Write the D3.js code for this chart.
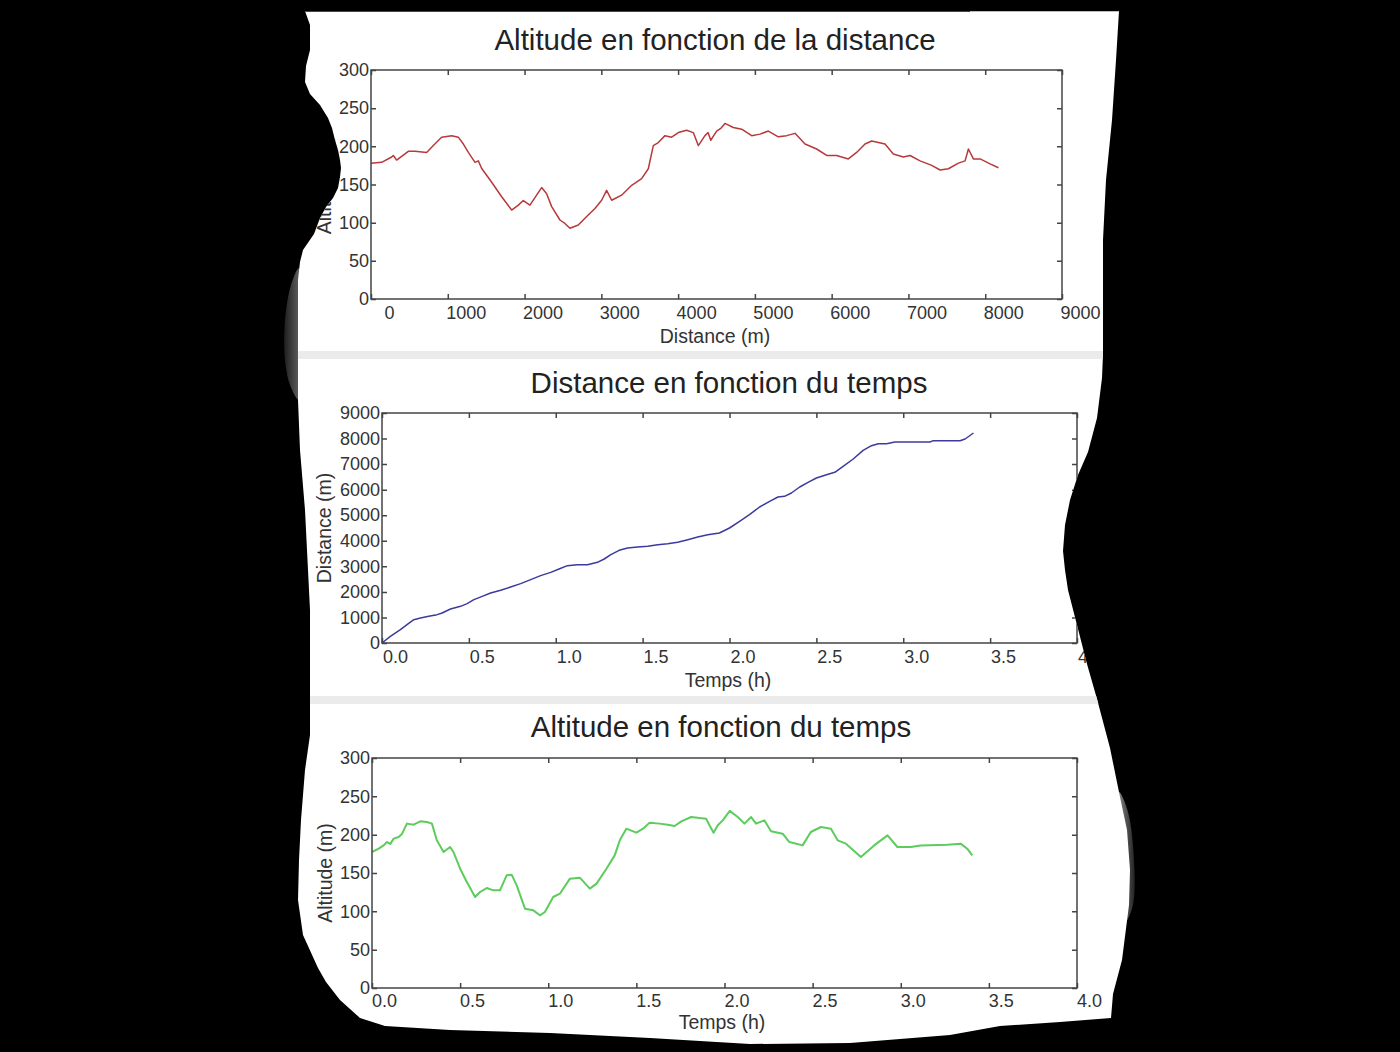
<!DOCTYPE html>
<html>
<head>
<meta charset="utf-8">
<script src="https://cdn.jsdelivr.net/npm/d3@7"></script>
<style>
html, body { margin: 0; padding: 0; background: #000; }
svg { display: block; }
text { font-family: "Liberation Sans", Arial, sans-serif; fill: #333; }
</style>
</head>
<body>
<svg id="chart" width="1400" height="1052"></svg>
<script>
// --- data ---

// altitude vs distance (top, red)
const profileDistM = [0, 139, 269, 291, 334, 486, 573, 725, 812, 920, 1051, 1137, 1203, 1268, 1355, 1398, 1442,
    1572, 1702, 1832, 1919, 1984, 2070, 2157, 2223, 2288, 2353, 2461, 2526, 2591, 2700, 2809, 2917, 3004,
    3069, 3134, 3264, 3395, 3525, 3612, 3677, 3742, 3829, 3916, 4003, 4111, 4198, 4263, 4350, 4390, 4425,
    4502, 4560, 4610, 4719, 4828, 4958, 5066, 5175, 5305, 5414, 5523, 5653, 5804, 5935, 6065, 6217, 6325,
    6434, 6521, 6608, 6695, 6803, 6934, 7021, 7151, 7303, 7412, 7520, 7651, 7738, 7781, 7846, 7933, 8064, 8172];
const profileAltM = [178, 179, 186, 188, 182, 193.5, 193.5, 192, 201, 212, 214, 212, 203, 192, 179, 181, 171,
    153, 134, 116.5, 123, 129, 123, 136, 146, 138, 121, 103.5, 99, 92.6, 97, 108, 118.6, 129.4,
    142.4, 129.4, 136, 149, 157.6, 170.6, 201, 205, 214, 212, 218, 221, 218, 201, 214, 218, 208,
    220, 224, 230, 224.7, 222.5, 214, 216, 220, 212.5, 214, 217, 203, 196.5, 188, 188, 183.5, 192,
    203, 207, 205, 203, 190, 186, 188, 181, 175, 169, 170.6, 178, 181, 196.5, 183.5, 183.5, 177, 172];

// distance vs time (middle, blue)
const distTimeH = [0, 0.048, 0.106, 0.144, 0.183, 0.221, 0.269, 0.317, 0.346, 0.394, 0.452, 0.490, 0.529,
    0.577, 0.625, 0.683, 0.740, 0.798, 0.856, 0.913, 0.971, 1.019, 1.067, 1.125, 1.183, 1.240, 1.279,
    1.317, 1.365, 1.413, 1.471, 1.529, 1.587, 1.644, 1.702, 1.760, 1.817, 1.875, 1.942, 2.0, 2.058,
    2.115, 2.173, 2.231, 2.279, 2.317, 2.356, 2.404, 2.452, 2.5, 2.558, 2.606, 2.654, 2.712, 2.769,
    2.817, 2.856, 2.904, 2.952, 3.096, 3.154, 3.173, 3.327, 3.356, 3.404];
const distTimeM = [0, 261, 522, 717, 913, 978, 1043, 1109, 1174, 1330, 1435, 1539, 1696,
    1826, 1956, 2061, 2191, 2322, 2478, 2635, 2765, 2896, 3026, 3065, 3065, 3156, 3287,
    3456, 3626, 3717, 3756, 3782, 3848, 3887, 3939, 4043, 4148, 4239, 4304, 4500, 4761,
    5022, 5322, 5543, 5713, 5739, 5869, 6104, 6287, 6456, 6587, 6678, 6913, 7200, 7539,
    7722, 7800, 7800, 7865, 7865, 7865, 7917, 7917, 7982, 8217];

// altitude vs time (bottom, green)
const altTimeH = [0, 0.038, 0.066, 0.085, 0.104, 0.123, 0.151, 0.17, 0.198, 0.236, 0.274, 0.311, 0.34,
    0.368, 0.406, 0.443, 0.462, 0.5, 0.538, 0.585, 0.613, 0.651, 0.689, 0.726, 0.764, 0.792, 0.821,
    0.868, 0.915, 0.953, 0.981, 1.028, 1.066, 1.123, 1.179, 1.236, 1.274, 1.33, 1.377, 1.406, 1.443,
    1.5, 1.538, 1.575, 1.632, 1.679, 1.717, 1.755, 1.811, 1.858, 1.896, 1.915, 1.938, 1.962, 1.99,
    2.03, 2.075, 2.113, 2.151, 2.179, 2.226, 2.264, 2.33, 2.368, 2.443, 2.49, 2.547, 2.604, 2.642,
    2.689, 2.774, 2.849, 2.925, 2.981, 3.057, 3.113, 3.264, 3.34, 3.377, 3.406];
const altTimeM = [177.4, 181.7, 186, 190.4, 188, 194.8, 197, 201, 214.4, 213, 217.4, 216.5, 214.4,
    192.6, 177.4, 184, 177.4, 155.6, 138.3, 118.7, 125.2, 130.4, 127.4, 127.4, 147, 147.8, 133.9,
    103.5, 101.3, 94.8, 99.1, 118.7, 123, 142.6, 143.9, 129.6, 136.1, 155.6, 173, 192.6, 207.8,
    202.6, 207.8, 215.7, 214.4, 213, 211.3, 217.4, 223, 221.7, 220.9, 212.2, 202.6, 212.2, 218.7,
    231, 223, 214.4, 223, 214.4, 218.7, 204.4, 201.3, 190.4, 186, 203.5, 210, 207.8, 192.6,
    188.3, 170.9, 186, 199.1, 183.9, 183.9, 186, 187, 188.3, 181.7, 173];

// ticks
const distTicks = d3.range(0, 9001, 1000);
const altTicks = d3.range(0, 301, 50);
const hourTicks = d3.range(0, 4.01, 0.5);

const titles = ["Altitude en fonction de la distance", "Distance en fonction du temps", "Altitude en fonction du temps"];

// --- page ---
const svg = d3.select("#chart");
svg.append("rect").attr("width", 1400).attr("height", 1052).attr("fill", "#000");

// torn paper outline (decoration, clockwise from top left)
const paperOutline = [[305, 11], [1119, 11], [1116, 60], [1112, 120], [1106, 180], [1103, 240], [1103, 300],
    [1103, 354], [1102, 378], [1097, 418], [1088, 452], [1078, 475], [1070, 500], [1065, 525], [1063, 551],
    [1065, 570], [1068, 590], [1077, 625], [1087, 664], [1097, 699], [1110, 748], [1120, 797], [1127, 830],
    [1130, 870], [1129, 905], [1122, 960], [1113, 994], [1111, 1018], [1060, 1022], [1000, 1026], [950, 1035],
    [850, 1043], [750, 1044], [650, 1038], [550, 1033], [450, 1030], [385, 1026], [360, 1018], [340, 1000],
    [326, 982], [318, 968], [303, 935], [298, 900], [299, 860], [301, 820], [305, 770], [310, 735], [310, 610],
    [305, 510], [300, 450], [298, 400], [298, 280], [300, 262], [303, 250], [314, 234], [320, 218], [326, 207],
    [333, 198], [338, 188], [340, 177], [341, 168], [340, 160], [338, 150], [335, 140], [332, 128], [328, 118],
    [320, 105], [310, 94], [305, 82], [306, 66], [310, 50], [310, 25]];

const shadowLeft = [[299, 268], [291, 285], [285, 320], [285, 360], [290, 385], [299, 400]];
const shadowRight = [[1119, 792], [1128, 812], [1134, 860], [1133, 905], [1125, 922]];

const defs = svg.append("defs");
const grad = defs.append("linearGradient").attr("id", "shade").attr("x1", 0).attr("x2", 1);
grad.append("stop").attr("offset", 0).attr("stop-color", "#1e1e1e");
grad.append("stop").attr("offset", 1).attr("stop-color", "#6e6e6e");
const gradR = defs.append("linearGradient").attr("id", "shadeR").attr("x1", 1).attr("x2", 0);
gradR.append("stop").attr("offset", 0).attr("stop-color", "#222");
gradR.append("stop").attr("offset", 1).attr("stop-color", "#8a8a8a");

const smooth = d3.line().curve(d3.curveCatmullRomClosed.alpha(0.5));
const outline = d3.line().curve(d3.curveLinearClosed);
svg.append("path").attr("d", smooth(shadowLeft)).attr("fill", "url(#shade)");
svg.append("path").attr("d", smooth(shadowRight)).attr("fill", "url(#shadeR)");

defs.append("clipPath").attr("id", "paper").append("path").attr("d", outline(paperOutline));
svg.append("path").attr("d", outline(paperOutline)).attr("fill", "#fff");

const root = svg.append("g").attr("clip-path", "url(#paper)");

// thin grey edge along the top and grey gaps between the figure windows
root.append("rect").attr("x", 290).attr("y", 10).attr("width", 680).attr("height", 2).attr("fill", "#444");
root.append("rect").attr("x", 970).attr("y", 10).attr("width", 160).attr("height", 2).attr("fill", "#bbb");
root.append("rect").attr("x", 280).attr("y", 351).attr("width", 860).attr("height", 8).attr("fill", "#ebebeb");
root.append("rect").attr("x", 280).attr("y", 696).attr("width", 860).attr("height", 8).attr("fill", "#ebebeb");

const fmt1 = d3.format(".1f");

const panels = [
    {
        title: titles[0], titleX: 715, titleY: 50,
        xs: profileDistM, ys: profileAltM, color: "#b8393b", width: 1.5,
        xDomain: [0, 9000], yDomain: [0, 300], xTicks: distTicks, yTicks: altTicks, xFmt: d3.format("d"),
        left: 371, right: 1062, top: 70, bottom: 299, xPad: 7, xShift: 18,
        xLabel: "Distance (m)", xLabelX: 715, xLabelY: 343,
        yLabel: "Altitude (m)", yLabelX: 331
    },
    {
        title: titles[1], titleX: 729, titleY: 393,
        xs: distTimeH, ys: distTimeM, color: "#3b3b9e", width: 1.5,
        xDomain: [0, 4], yDomain: [0, 9000], xTicks: hourTicks, yTicks: distTicks, xFmt: fmt1,
        left: 382, right: 1077, top: 413, bottom: 643, xPad: 7, xShift: 13,
        xLabel: "Temps (h)", xLabelX: 728, xLabelY: 687,
        yLabel: "Distance (m)", yLabelX: 331
    },
    {
        title: titles[2], titleX: 721, titleY: 737,
        xs: altTimeH, ys: altTimeM, color: "#5ccc5c", width: 2,
        xDomain: [0, 4], yDomain: [0, 300], xTicks: hourTicks, yTicks: altTicks, xFmt: fmt1,
        left: 372, right: 1077, top: 758, bottom: 988, xPad: 6, xShift: 12,
        xLabel: "Temps (h)", xLabelX: 722, xLabelY: 1029,
        yLabel: "Altitude (m)", yLabelX: 332
    }
];

panels.forEach(drawPanel);

function drawPanel(p) {
    const x = d3.scaleLinear().domain(p.xDomain).range([p.left, p.right]);
    const y = d3.scaleLinear().domain(p.yDomain).range([p.bottom, p.top]);
    const g = root.append("g").attr("color", "#444");

    g.append("text")
        .attr("x", p.titleX).attr("y", p.titleY)
        .attr("text-anchor", "middle").attr("font-size", 29.5)
        .style("fill", "#222")
        .text(p.title);

    // the trace
    const line = d3.line().x(d => x(d[0])).y(d => y(d[1]));
    g.append("path")
        .datum(d3.zip(p.xs, p.ys))
        .attr("fill", "none")
        .attr("stroke", p.color)
        .attr("stroke-width", p.width)
        .attr("stroke-linejoin", "round")
        .attr("d", line);

    // frame
    g.append("rect")
        .attr("x", p.left).attr("y", p.top)
        .attr("width", p.right - p.left).attr("height", p.bottom - p.top)
        .attr("fill", "none").attr("stroke", "#444").attr("stroke-width", 1.5);

    // inward ticks on all four sides, labels on bottom and left
    const bottomAxis = g.append("g")
        .attr("transform", `translate(0,${p.bottom})`)
        .call(d3.axisBottom(x).tickValues(p.xTicks).tickFormat(p.xFmt)
            .tickSizeInner(-5).tickSizeOuter(0).tickPadding(p.xPad));
    bottomAxis.attr("font-size", 18);
    bottomAxis.selectAll("text").attr("dx", p.xShift);

    const leftAxis = g.append("g")
        .attr("transform", `translate(${p.left},0)`)
        .call(d3.axisLeft(y).tickValues(p.yTicks).tickFormat(d3.format("d"))
            .tickSizeInner(-5).tickSizeOuter(0).tickPadding(2));
    leftAxis.attr("font-size", 18);

    g.append("g")
        .attr("transform", `translate(0,${p.top})`)
        .call(d3.axisTop(x).tickValues(p.xTicks).tickFormat("").tickSizeInner(-5).tickSizeOuter(0));
    g.append("g")
        .attr("transform", `translate(${p.right},0)`)
        .call(d3.axisRight(y).tickValues(p.yTicks).tickFormat("").tickSizeInner(-5).tickSizeOuter(0));

    g.selectAll(".domain").remove();
    g.selectAll(".tick line").attr("stroke-width", 1.5);

    // axis titles
    g.append("text")
        .attr("x", p.xLabelX).attr("y", p.xLabelY)
        .attr("text-anchor", "middle").attr("font-size", 19.5)
        .text(p.xLabel);

    g.append("text")
        .attr("transform", `translate(${p.yLabelX},${(p.top + p.bottom) / 2}) rotate(-90)`)
        .attr("text-anchor", "middle").attr("font-size", 19.5)
        .text(p.yLabel);
}
</script>
</body>
</html>
